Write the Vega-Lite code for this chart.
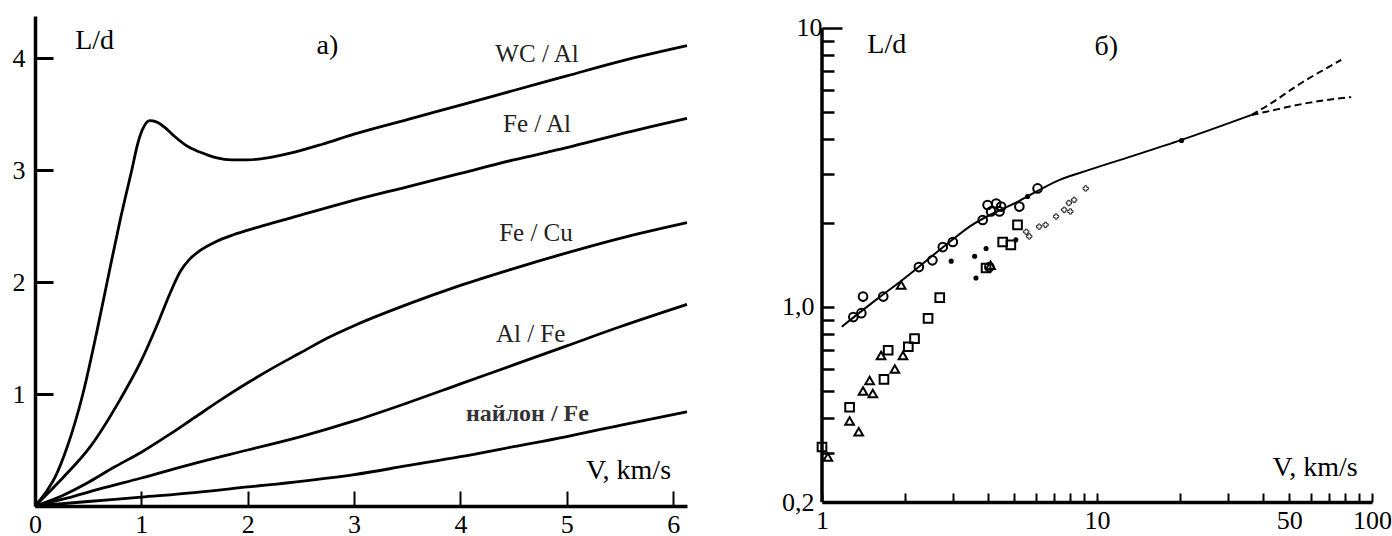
{
  "$schema": "https://vega.github.io/schema/vega-lite/v6.json",
  "background": "white",
  "padding": {"left": 12, "top": 14, "right": 0, "bottom": 0},
  "bounds": "flush",
  "spacing": 135,
  "config": {
    "view": {"stroke": null},
    "font": "Liberation Serif",
    "axis": {"grid": false, "domainColor": "black", "domainWidth": 3.5, "tickColor": "black", "labelColor": "black", "labelFont": "Liberation Serif", "labelFontSize": 26, "labelOverlap": false, "labelFlush": false}
  },
  "datasets": {
    "curvesA": [
      {"c": "WC/Al", "V": 0, "L": 0}, {"c": "WC/Al", "V": 0.1, "L": 0.12}, {"c": "WC/Al", "V": 0.19, "L": 0.26}, {"c": "WC/Al", "V": 0.3, "L": 0.52}, {"c": "WC/Al", "V": 0.45, "L": 1.0}, {"c": "WC/Al", "V": 0.58, "L": 1.55}, {"c": "WC/Al", "V": 0.7, "L": 2.1}, {"c": "WC/Al", "V": 0.8, "L": 2.55}, {"c": "WC/Al", "V": 0.91, "L": 3.0}, {"c": "WC/Al", "V": 0.97, "L": 3.25}, {"c": "WC/Al", "V": 1.02, "L": 3.38}, {"c": "WC/Al", "V": 1.08, "L": 3.44}, {"c": "WC/Al", "V": 1.14, "L": 3.43}, {"c": "WC/Al", "V": 1.22, "L": 3.38}, {"c": "WC/Al", "V": 1.3, "L": 3.31}, {"c": "WC/Al", "V": 1.42, "L": 3.22}, {"c": "WC/Al", "V": 1.55, "L": 3.16}, {"c": "WC/Al", "V": 1.7, "L": 3.11}, {"c": "WC/Al", "V": 1.85, "L": 3.09}, {"c": "WC/Al", "V": 2.0, "L": 3.09}, {"c": "WC/Al", "V": 2.2, "L": 3.11}, {"c": "WC/Al", "V": 2.4, "L": 3.15}, {"c": "WC/Al", "V": 2.7, "L": 3.23}, {"c": "WC/Al", "V": 3.0, "L": 3.32}, {"c": "WC/Al", "V": 3.5, "L": 3.45}, {"c": "WC/Al", "V": 4.0, "L": 3.58}, {"c": "WC/Al", "V": 4.5, "L": 3.71}, {"c": "WC/Al", "V": 5.0, "L": 3.84}, {"c": "WC/Al", "V": 5.5, "L": 3.97}, {"c": "WC/Al", "V": 6.13, "L": 4.11},
      {"c": "Fe/Al", "V": 0, "L": 0}, {"c": "Fe/Al", "V": 0.26, "L": 0.25}, {"c": "Fe/Al", "V": 0.52, "L": 0.53}, {"c": "Fe/Al", "V": 0.8, "L": 0.95}, {"c": "Fe/Al", "V": 1.0, "L": 1.3}, {"c": "Fe/Al", "V": 1.15, "L": 1.62}, {"c": "Fe/Al", "V": 1.27, "L": 1.9}, {"c": "Fe/Al", "V": 1.37, "L": 2.1}, {"c": "Fe/Al", "V": 1.45, "L": 2.2}, {"c": "Fe/Al", "V": 1.55, "L": 2.28}, {"c": "Fe/Al", "V": 1.7, "L": 2.36}, {"c": "Fe/Al", "V": 1.86, "L": 2.42}, {"c": "Fe/Al", "V": 2.1, "L": 2.49}, {"c": "Fe/Al", "V": 2.4, "L": 2.57}, {"c": "Fe/Al", "V": 2.96, "L": 2.72}, {"c": "Fe/Al", "V": 3.5, "L": 2.85}, {"c": "Fe/Al", "V": 4.0, "L": 2.97}, {"c": "Fe/Al", "V": 4.5, "L": 3.09}, {"c": "Fe/Al", "V": 5.0, "L": 3.2}, {"c": "Fe/Al", "V": 5.5, "L": 3.32}, {"c": "Fe/Al", "V": 6.13, "L": 3.46},
      {"c": "Fe/Cu", "V": 0, "L": 0}, {"c": "Fe/Cu", "V": 0.25, "L": 0.09}, {"c": "Fe/Cu", "V": 0.5, "L": 0.21}, {"c": "Fe/Cu", "V": 0.75, "L": 0.35}, {"c": "Fe/Cu", "V": 1.0, "L": 0.48}, {"c": "Fe/Cu", "V": 1.25, "L": 0.63}, {"c": "Fe/Cu", "V": 1.5, "L": 0.79}, {"c": "Fe/Cu", "V": 1.75, "L": 0.95}, {"c": "Fe/Cu", "V": 2.0, "L": 1.1}, {"c": "Fe/Cu", "V": 2.25, "L": 1.24}, {"c": "Fe/Cu", "V": 2.5, "L": 1.37}, {"c": "Fe/Cu", "V": 2.75, "L": 1.5}, {"c": "Fe/Cu", "V": 3.0, "L": 1.61}, {"c": "Fe/Cu", "V": 3.5, "L": 1.8}, {"c": "Fe/Cu", "V": 4.0, "L": 1.97}, {"c": "Fe/Cu", "V": 4.5, "L": 2.12}, {"c": "Fe/Cu", "V": 5.0, "L": 2.26}, {"c": "Fe/Cu", "V": 5.5, "L": 2.39}, {"c": "Fe/Cu", "V": 6.13, "L": 2.53},
      {"c": "Al/Fe", "V": 0, "L": 0}, {"c": "Al/Fe", "V": 0.3, "L": 0.07}, {"c": "Al/Fe", "V": 0.6, "L": 0.15}, {"c": "Al/Fe", "V": 1.0, "L": 0.25}, {"c": "Al/Fe", "V": 1.5, "L": 0.38}, {"c": "Al/Fe", "V": 2.0, "L": 0.5}, {"c": "Al/Fe", "V": 2.5, "L": 0.62}, {"c": "Al/Fe", "V": 3.0, "L": 0.76}, {"c": "Al/Fe", "V": 3.5, "L": 0.92}, {"c": "Al/Fe", "V": 4.0, "L": 1.09}, {"c": "Al/Fe", "V": 4.5, "L": 1.26}, {"c": "Al/Fe", "V": 5.0, "L": 1.43}, {"c": "Al/Fe", "V": 5.5, "L": 1.6}, {"c": "Al/Fe", "V": 6.13, "L": 1.8},
      {"c": "nylon/Fe", "V": 0, "L": 0}, {"c": "nylon/Fe", "V": 0.5, "L": 0.04}, {"c": "nylon/Fe", "V": 1.0, "L": 0.08}, {"c": "nylon/Fe", "V": 1.5, "L": 0.12}, {"c": "nylon/Fe", "V": 2.0, "L": 0.17}, {"c": "nylon/Fe", "V": 2.5, "L": 0.22}, {"c": "nylon/Fe", "V": 3.0, "L": 0.28}, {"c": "nylon/Fe", "V": 3.5, "L": 0.36}, {"c": "nylon/Fe", "V": 4.0, "L": 0.44}, {"c": "nylon/Fe", "V": 4.5, "L": 0.53}, {"c": "nylon/Fe", "V": 5.0, "L": 0.62}, {"c": "nylon/Fe", "V": 5.5, "L": 0.72}, {"c": "nylon/Fe", "V": 6.13, "L": 0.84}
    ],
    "bigTextA": [
      {"V": 2.75, "L": 4.11, "t": "a)"},
      {"V": 5.58, "L": 0.31, "t": "V, km/s"},
      {"V": 0.56, "L": 4.15, "t": "L/d"}
    ],
    "curveTextA": [
      {"V": 4.72, "L": 4.04, "t": "WC / Al"},
      {"V": 4.72, "L": 3.41, "t": "Fe / Al"},
      {"V": 4.71, "L": 2.44, "t": "Fe / Cu"},
      {"V": 4.66, "L": 1.54, "t": "Al / Fe"}
    ],
    "boldTextA": [
      {"V": 4.63, "L": 0.82, "t": "найлон / Fe"}
    ],
    "axisB": [{"V": 1, "L": 0.2, "L2": 10}],
    "solidB": [
      {"V": 1.18, "L": 0.85}, {"V": 1.58, "L": 1.065}, {"V": 1.96, "L": 1.25}, {"V": 2.91, "L": 1.71}, {"V": 3.44, "L": 1.94}, {"V": 5.22, "L": 2.4}, {"V": 7.28, "L": 2.85}, {"V": 9.35, "L": 3.1}, {"V": 13.5, "L": 3.48}, {"V": 20.3, "L": 3.97}, {"V": 36.5, "L": 4.88}
    ],
    "dashB": [
      {"b": "up", "V": 36.5, "L": 4.88}, {"b": "up", "V": 40.9, "L": 5.21}, {"b": "up", "V": 55.3, "L": 6.35}, {"b": "up", "V": 77.3, "L": 7.68},
      {"b": "low", "V": 36.5, "L": 4.88}, {"b": "low", "V": 40.9, "L": 5.0}, {"b": "low", "V": 58.6, "L": 5.39}, {"b": "low", "V": 84, "L": 5.66}
    ],
    "pointsB": [
      {"m": "circle", "V": 1.30, "L": 0.92}, {"m": "circle", "V": 1.39, "L": 0.95}, {"m": "circle", "V": 1.41, "L": 1.09}, {"m": "circle", "V": 1.67, "L": 1.09}, {"m": "circle", "V": 2.25, "L": 1.39}, {"m": "circle", "V": 2.52, "L": 1.47}, {"m": "circle", "V": 2.75, "L": 1.64}, {"m": "circle", "V": 2.99, "L": 1.71}, {"m": "circle", "V": 3.84, "L": 2.05}, {"m": "circle", "V": 4.0, "L": 2.32}, {"m": "circle", "V": 4.3, "L": 2.35}, {"m": "circle", "V": 4.48, "L": 2.29}, {"m": "circle", "V": 4.12, "L": 2.2}, {"m": "circle", "V": 4.42, "L": 2.2}, {"m": "circle", "V": 5.22, "L": 2.29}, {"m": "circle", "V": 6.08, "L": 2.66}, {"m": "circle", "V": 4.06, "L": 1.39},
      {"m": "triangle", "V": 1.94, "L": 1.2}, {"m": "triangle", "V": 1.64, "L": 0.67}, {"m": "triangle", "V": 1.97, "L": 0.67}, {"m": "triangle", "V": 1.84, "L": 0.6}, {"m": "triangle", "V": 1.49, "L": 0.545}, {"m": "triangle", "V": 1.41, "L": 0.5}, {"m": "triangle", "V": 1.53, "L": 0.49}, {"m": "triangle", "V": 1.26, "L": 0.39}, {"m": "triangle", "V": 1.36, "L": 0.357}, {"m": "triangle", "V": 1.05, "L": 0.29}, {"m": "triangle", "V": 4.1, "L": 1.41},
      {"m": "square", "V": 1.74, "L": 0.7}, {"m": "square", "V": 2.06, "L": 0.72}, {"m": "square", "V": 2.17, "L": 0.77}, {"m": "square", "V": 2.43, "L": 0.91}, {"m": "square", "V": 2.68, "L": 1.08}, {"m": "square", "V": 1.68, "L": 0.55}, {"m": "square", "V": 1.26, "L": 0.437}, {"m": "square", "V": 1.0, "L": 0.315}, {"m": "square", "V": 5.14, "L": 1.97}, {"m": "square", "V": 4.54, "L": 1.71}, {"m": "square", "V": 4.86, "L": 1.67}, {"m": "square", "V": 3.95, "L": 1.38}
    ],
    "crossB": [
      {"V": 5.53, "L": 1.86}, {"V": 5.67, "L": 1.79}, {"V": 6.16, "L": 1.94}, {"V": 6.5, "L": 1.97}, {"V": 7.1, "L": 2.11}, {"V": 7.6, "L": 2.23}, {"V": 8.0, "L": 2.2}, {"V": 8.26, "L": 2.42}, {"V": 9.1, "L": 2.66}, {"V": 7.9, "L": 2.36}
    ],
    "dotsB": [
      {"V": 2.95, "L": 1.46}, {"V": 3.59, "L": 1.52}, {"V": 3.95, "L": 1.62}, {"V": 3.63, "L": 1.27}, {"V": 5.07, "L": 1.74}, {"V": 5.59, "L": 2.49}, {"V": 20.3, "L": 3.95}
    ],
    "textB": [
      {"V": 10.8, "L": 8.55, "t": "б)"},
      {"V": 1.72, "L": 8.7, "t": "L/d"},
      {"V": 62.1, "L": 0.265, "t": "V, km/s"}
    ]
  },
  "hconcat": [
    {
      "width": 652,
      "height": 490,
      "encoding": {
        "x": {"field": "V", "type": "quantitative", "scale": {"domain": [0, 6.13], "nice": false, "zero": false},
              "axis": {"title": null, "values": [0, 1, 2, 3, 4, 5, 6], "format": "d", "tickSize": -15, "tickWidth": 2, "labelPadding": 20}},
        "y": {"field": "L", "type": "quantitative", "scale": {"domain": [0, 4.375], "nice": false},
              "axis": {"title": null, "values": [1, 2, 3, 4], "format": "d", "tickSize": -18, "tickWidth": 3, "labelPadding": 28}}
      },
      "layer": [
        {"data": {"name": "curvesA"}, "mark": {"type": "line", "interpolate": "monotone", "color": "black", "strokeWidth": 2.8},
         "encoding": {"detail": {"field": "c"}}},
        {"data": {"name": "bigTextA"}, "mark": {"type": "text", "font": "Liberation Serif", "fontSize": 28, "color": "black"},
         "encoding": {"text": {"field": "t"}}},
        {"data": {"name": "curveTextA"}, "mark": {"type": "text", "font": "Liberation Serif", "fontSize": 25, "color": "#222"},
         "encoding": {"text": {"field": "t"}}},
        {"data": {"name": "boldTextA"}, "mark": {"type": "text", "font": "Liberation Serif", "fontSize": 24, "fontWeight": "bold", "color": "#333"},
         "encoding": {"text": {"field": "t"}}}
      ]
    },
    {
      "width": 550,
      "height": 486,
      "encoding": {
        "x": {"field": "V", "type": "quantitative", "scale": {"type": "log", "domain": [1, 100], "nice": false},
              "axis": {"title": null, "values": [1, 2, 3, 4, 5, 6, 7, 8, 9, 10, 20, 30, 40, 50, 60, 70, 80, 90, 100],
                       "labelExpr": "datum.value == 1 || datum.value == 10 || datum.value == 50 || datum.value == 100 ? datum.label : ''",
                       "tickSize": -9, "tickWidth": 2, "labelPadding": 14}},
        "y": {"field": "L", "type": "quantitative", "scale": {"type": "log", "domain": [0.2, 11.04], "nice": false},
              "axis": {"title": null, "domain": false, "values": [0.2, 0.3, 0.4, 0.5, 0.6, 0.7, 0.8, 0.9, 1, 2, 3, 4, 5, 6, 7, 8, 9, 10],
                       "labelExpr": "datum.value < 0.25 ? '0,2' : (datum.value == 1 ? '1,0' : (datum.value == 10 ? '10' : ''))",
                       "tickSize": {"condition": {"test": "datum.value == 10", "value": -20}, "value": -12},
                       "tickWidth": 2.5, "labelPadding": 20}}
      },
      "layer": [
        {"data": {"name": "axisB"}, "mark": {"type": "rule", "color": "black", "strokeWidth": 3.5},
         "encoding": {"y2": {"field": "L2"}}},
        {"data": {"name": "solidB"}, "mark": {"type": "line", "interpolate": "monotone", "color": "black", "strokeWidth": 2}},
        {"data": {"name": "dashB"}, "mark": {"type": "line", "interpolate": "monotone", "color": "black", "strokeWidth": 2, "strokeDash": [7, 4]},
         "encoding": {"detail": {"field": "b"}}},
        {"data": {"name": "pointsB"}, "mark": {"type": "point", "filled": false, "color": "black", "strokeWidth": 2, "size": 75, "opacity": 1},
         "encoding": {"shape": {"field": "m", "type": "nominal", "legend": null,
                                "scale": {"domain": ["circle", "square", "triangle"], "range": ["circle", "square", "triangle-up"]}}}},
        {"data": {"name": "crossB"}, "mark": {"type": "point", "filled": false, "shape": "cross", "color": "#222", "strokeWidth": 1, "size": 28, "opacity": 1}},
        {"data": {"name": "dotsB"}, "mark": {"type": "point", "filled": true, "shape": "circle", "color": "black", "size": 26, "opacity": 1}},
        {"data": {"name": "textB"}, "mark": {"type": "text", "font": "Liberation Serif", "fontSize": 28, "color": "black"},
         "encoding": {"text": {"field": "t"}}}
      ]
    }
  ]
}
